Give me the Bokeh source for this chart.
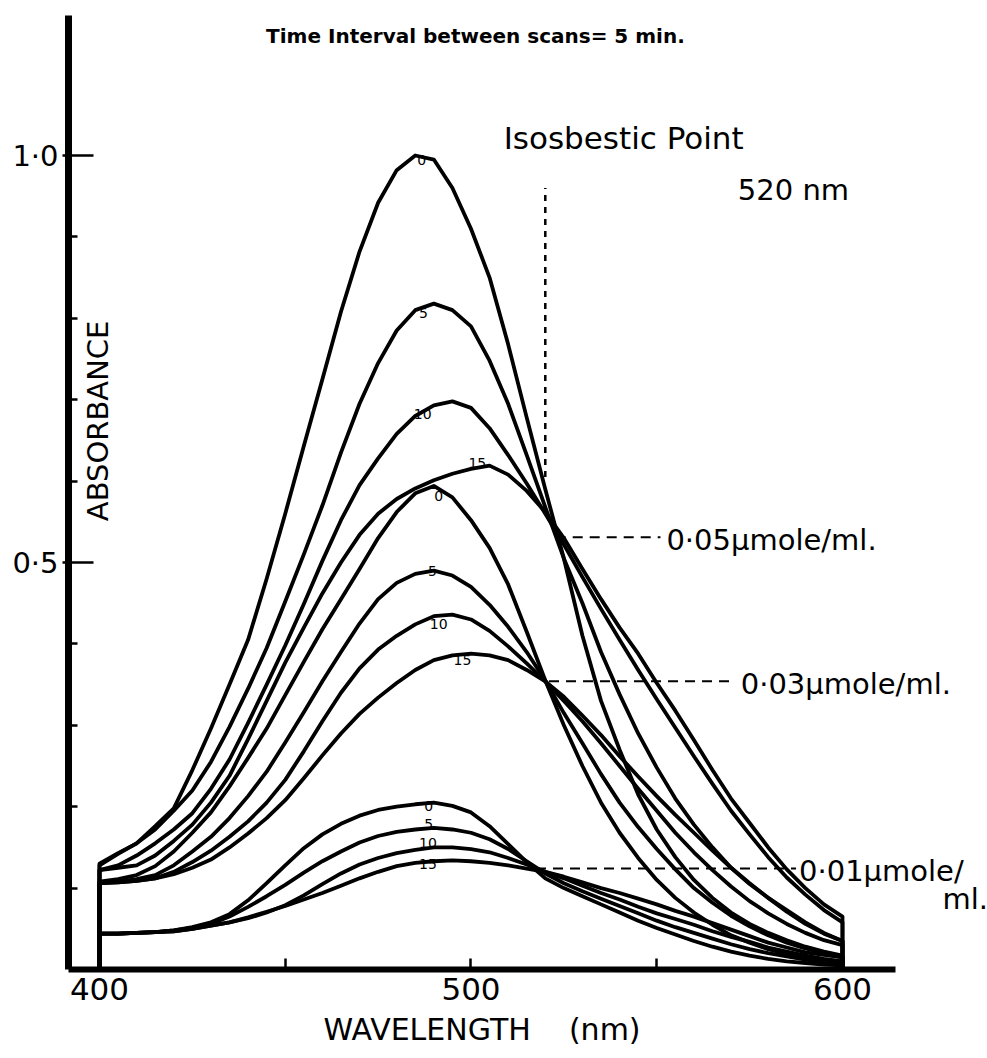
from math import pi
from bokeh.plotting import figure
from bokeh.models import Label, FixedTicker, Range1d, Title
from bokeh.embed import file_html
from bokeh.resources import INLINE

# ---------------- data ----------------
WAVELENGTH_NM = list(range(400, 605, 5))   # 400 ... 600 nm, 41 points

# 0.05 umole/ml, scans at 0, 5, 10, 15 min
A05_T0 = [0.13, 0.143, 0.155, 0.176, 0.198, 0.245, 0.296, 0.35, 0.405, 0.48,
          0.56, 0.643, 0.725, 0.808, 0.882, 0.942, 0.982, 1.0, 0.995, 0.96,
          0.91, 0.85, 0.768, 0.678, 0.59, 0.505, 0.41, 0.33, 0.27, 0.215,
          0.172, 0.138, 0.11, 0.088, 0.07, 0.056, 0.045, 0.036, 0.028, 0.022, 0.017]
A05_T5 = [0.128, 0.142, 0.155, 0.172, 0.195, 0.22, 0.255, 0.298, 0.345, 0.395,
          0.452, 0.51, 0.57, 0.635, 0.695, 0.745, 0.785, 0.81, 0.818, 0.81,
          0.79, 0.748, 0.695, 0.632, 0.568, 0.505, 0.45, 0.39, 0.338, 0.29,
          0.248, 0.21, 0.178, 0.15, 0.125, 0.105, 0.088, 0.073, 0.058, 0.045, 0.035]
A05_T10 = [0.122, 0.128, 0.14, 0.155, 0.172, 0.192, 0.222, 0.258, 0.303, 0.35,
           0.398, 0.449, 0.502, 0.552, 0.595, 0.628, 0.658, 0.68, 0.693, 0.698,
           0.69, 0.665, 0.632, 0.597, 0.56, 0.522, 0.482, 0.443, 0.405, 0.368,
           0.332, 0.297, 0.262, 0.228, 0.195, 0.166, 0.138, 0.113, 0.092, 0.073, 0.058]
A05_T15 = [0.122, 0.125, 0.128, 0.14, 0.158, 0.178, 0.205, 0.238, 0.283, 0.33,
           0.377, 0.42, 0.462, 0.5, 0.534, 0.56, 0.578, 0.591, 0.601, 0.609,
           0.615, 0.619, 0.608, 0.588, 0.562, 0.53, 0.492, 0.455, 0.42, 0.388,
           0.352, 0.318, 0.282, 0.245, 0.21, 0.18, 0.15, 0.123, 0.1, 0.08, 0.065]

# 0.03 umole/ml
A03_T0 = [0.108, 0.111, 0.116, 0.127, 0.145, 0.168, 0.193, 0.225, 0.26, 0.296,
          0.337, 0.378, 0.418, 0.455, 0.492, 0.53, 0.562, 0.585, 0.594, 0.58,
          0.552, 0.518, 0.473, 0.415, 0.355, 0.3, 0.25, 0.205, 0.168, 0.137,
          0.11, 0.088, 0.07, 0.055, 0.042, 0.033, 0.025, 0.019, 0.014, 0.01, 0.008]
A03_T5 = [0.106, 0.108, 0.111, 0.116, 0.128, 0.145, 0.163, 0.186, 0.213, 0.243,
          0.279, 0.316, 0.354, 0.39, 0.425, 0.455, 0.475, 0.486, 0.49, 0.484,
          0.47, 0.448, 0.421, 0.39, 0.355, 0.315, 0.278, 0.24, 0.205, 0.175,
          0.148, 0.123, 0.1, 0.082, 0.066, 0.053, 0.042, 0.033, 0.026, 0.02, 0.015]
A03_T10 = [0.106, 0.107, 0.109, 0.112, 0.12, 0.132, 0.146, 0.163, 0.182, 0.205,
           0.233, 0.268, 0.305, 0.34, 0.37, 0.393, 0.41, 0.424, 0.434, 0.436,
           0.43, 0.416, 0.397, 0.376, 0.354, 0.33, 0.305, 0.278, 0.25, 0.222,
           0.195, 0.168, 0.144, 0.122, 0.102, 0.084, 0.069, 0.056, 0.045, 0.036, 0.03]
A03_T15 = [0.106, 0.107, 0.109, 0.112, 0.117, 0.125, 0.135, 0.15, 0.167, 0.186,
           0.208, 0.235, 0.263, 0.29, 0.314, 0.334, 0.352, 0.368, 0.38, 0.386,
           0.388, 0.386, 0.38, 0.368, 0.354, 0.335, 0.312, 0.288, 0.262, 0.237,
           0.213, 0.19, 0.168, 0.146, 0.125, 0.106, 0.088, 0.071, 0.056, 0.044, 0.035]

# 0.01 umole/ml
A01_T0 = [0.044, 0.044, 0.045, 0.046, 0.048, 0.052, 0.058, 0.068, 0.085, 0.106,
          0.128, 0.149, 0.166, 0.179, 0.189, 0.196, 0.2, 0.203, 0.205, 0.201,
          0.193, 0.176, 0.154, 0.132, 0.112, 0.1, 0.09, 0.08, 0.07, 0.06,
          0.051, 0.043, 0.035, 0.028, 0.022, 0.017, 0.013, 0.01, 0.008, 0.006, 0.005]
A01_T5 = [0.044, 0.044, 0.045, 0.046, 0.048, 0.051, 0.056, 0.065, 0.077, 0.09,
          0.104, 0.119, 0.133, 0.145, 0.156, 0.164, 0.169, 0.172, 0.174, 0.172,
          0.168, 0.16, 0.148, 0.133, 0.118, 0.106, 0.096, 0.087, 0.078, 0.069,
          0.06, 0.052, 0.045, 0.038, 0.031, 0.025, 0.02, 0.016, 0.012, 0.009, 0.007]
A01_T10 = [0.044, 0.044, 0.045, 0.046, 0.047, 0.05, 0.054, 0.058, 0.063, 0.07,
           0.079, 0.091, 0.105, 0.118, 0.129, 0.137, 0.143, 0.147, 0.15, 0.15,
           0.148, 0.144, 0.137, 0.129, 0.12, 0.112, 0.103, 0.094, 0.086, 0.077,
           0.069, 0.062, 0.055, 0.047, 0.04, 0.034, 0.027, 0.022, 0.017, 0.013, 0.01]
A01_T15 = [0.044, 0.044, 0.045, 0.046, 0.047, 0.05, 0.054, 0.058, 0.064, 0.071,
           0.078, 0.086, 0.094, 0.103, 0.112, 0.12, 0.127, 0.131, 0.133, 0.134,
           0.133, 0.131, 0.128, 0.124, 0.12, 0.114, 0.107, 0.1, 0.094, 0.087,
           0.08, 0.072, 0.065, 0.057, 0.049, 0.041, 0.033, 0.027, 0.021, 0.018, 0.015]

SCAN_TIMES = ["0", "5", "10", "15"]
CONC_LABELS = ["0·05µmole/ml.", "0·03µmole/ml.", "0·01µmole/"]
ISOSBESTIC_NM = 520
ISOSBESTIC_ABS = [0.531, 0.354, 0.124]          # where each family crosses

SERIES = [A05_T0, A05_T5, A05_T10, A05_T15,
          A03_T0, A03_T5, A03_T10, A03_T15,
          A01_T0, A01_T5, A01_T10, A01_T15]

# ---------------- figure ----------------
FONT = "DejaVu Sans"
INK = "#000000"
X_START, X_AXIS_END, X_END = 391.66, 614.27, 639.03

p = figure(width=987, height=1058,
           x_range=Range1d(X_START, X_END), y_range=Range1d(0, 1.172),
           output_backend="svg", toolbar_location=None,
           min_border_left=68, min_border_right=0,
           min_border_top=15, min_border_bottom=89)
p.grid.visible = False
p.outline_line_color = None
p.background_fill_color = "white"
p.border_fill_color = "white"

# x axis
xa = p.xaxis[0]
xa.bounds = (X_START, X_AXIS_END)
xa.ticker = FixedTicker(ticks=[400, 500, 600], minor_ticks=[450, 550])
xa.axis_line_width = 6
xa.axis_line_color = INK
xa.major_tick_in = 11
xa.major_tick_out = 0
xa.minor_tick_in = 11
xa.minor_tick_out = 0
xa.major_tick_line_width = 2.5
xa.minor_tick_line_width = 2.5
xa.major_tick_line_color = INK
xa.minor_tick_line_color = INK
xa.major_label_text_font = FONT
xa.major_label_text_font_size = "31px"
xa.major_label_text_color = INK
xa.major_label_standoff = 8

# y axis
ya = p.yaxis[0]
ya.ticker = FixedTicker(ticks=[0.5, 1.0],
                        minor_ticks=[0.1, 0.2, 0.3, 0.4, 0.6, 0.7, 0.8, 0.9])
ya.major_label_overrides = {0.5: "0·5", 1.0: "1·0"}
ya.axis_line_width = 7
ya.axis_line_color = INK
ya.major_tick_in = 25
ya.major_tick_out = 6
ya.minor_tick_in = 9
ya.minor_tick_out = 0
ya.major_tick_line_width = 2.5
ya.minor_tick_line_width = 2.5
ya.major_tick_line_color = INK
ya.minor_tick_line_color = INK
ya.major_label_text_font = FONT
ya.major_label_text_font_size = "29px"
ya.major_label_text_color = INK
ya.major_label_standoff = 4
ya.major_label_orientation = "horizontal"

# x-axis title, set below the tick labels (non-breaking spaces keep the gap)
p.add_layout(Title(text="WAVELENGTH\u00a0\u00a0\u00a0\u00a0(nm)", align="left", offset=255,
                   text_font=FONT, text_font_size="30px", text_font_style="normal",
                   text_color=INK, standoff=14), "below")

# spectra: the recorder pen rises from the baseline at 400 nm and drops at 600 nm
for vals in SERIES:
    xs = [WAVELENGTH_NM[0]] + WAVELENGTH_NM + [WAVELENGTH_NM[-1]]
    ys = [0.0] + vals + [0.0]
    p.line(xs, ys, line_color=INK, line_width=3.8, line_join="round", line_cap="round")

# isosbestic marker (dotted vertical)
p.line([ISOSBESTIC_NM, ISOSBESTIC_NM], [0.605, 0.96],
       line_color=INK, line_width=2.5, line_dash="6 6")

# dashed leaders to the concentration labels
DASH_START = [522.8, 521.0, 517.5]
DASH_END = [551.0, 571.0, 587.5]
LABEL_X = [552.6, 572.6, 588.3]
for a, x0, x1, lx, txt in zip(ISOSBESTIC_ABS, DASH_START, DASH_END, LABEL_X, CONC_LABELS):
    p.line([x0, x1], [a, a], line_color=INK, line_width=2, line_dash="10 7")
    p.add_layout(Label(x=lx, y=a - 0.003, text=txt, text_font=FONT,
                       text_font_size="29px", text_color=INK,
                       text_align="left", text_baseline="middle"))
p.add_layout(Label(x=626.9, y=0.086, text="ml.", text_font=FONT,
                   text_font_size="29px", text_color=INK,
                   text_align="left", text_baseline="middle"))

# scan-time labels at the peaks
TIME_LABEL_POS = [
    (486.7, 0.994), (487.2, 0.807), (487.0, 0.683), (501.7, 0.622),
    (491.3, 0.582), (489.6, 0.490), (491.3, 0.425), (497.7, 0.380),
    (488.6, 0.201), (488.6, 0.179), (488.4, 0.155), (488.4, 0.130),
]
for i, (lx, ly) in enumerate(TIME_LABEL_POS):
    p.add_layout(Label(x=lx, y=ly, text=SCAN_TIMES[i % 4], text_font=FONT,
                       text_font_size="14px", text_color=INK,
                       text_align="center", text_baseline="middle"))

# headings
p.add_layout(Label(x=501.2, y=1.147, text="Time Interval between scans= 5 min.",
                   text_font=FONT, text_font_size="20px", text_font_style="bold",
                   text_color=INK, text_align="center", text_baseline="middle"))
p.add_layout(Label(x=541.1, y=1.022, text="Isosbestic Point",
                   text_font=FONT, text_font_size="31px", text_color=INK,
                   text_align="center", text_baseline="middle"))
p.add_layout(Label(x=586.8, y=0.958, text="520 nm",
                   text_font=FONT, text_font_size="29px", text_color=INK,
                   text_align="center", text_baseline="middle"))

# y-axis title, inside the frame beside the axis
p.add_layout(Label(x=399.5, y=0.674, text="ABSORBANCE", angle=pi / 2,
                   text_font=FONT, text_font_size="29px", text_color=INK,
                   text_align="center", text_baseline="middle"))

open("out.html", "w").write(file_html(p, INLINE))
